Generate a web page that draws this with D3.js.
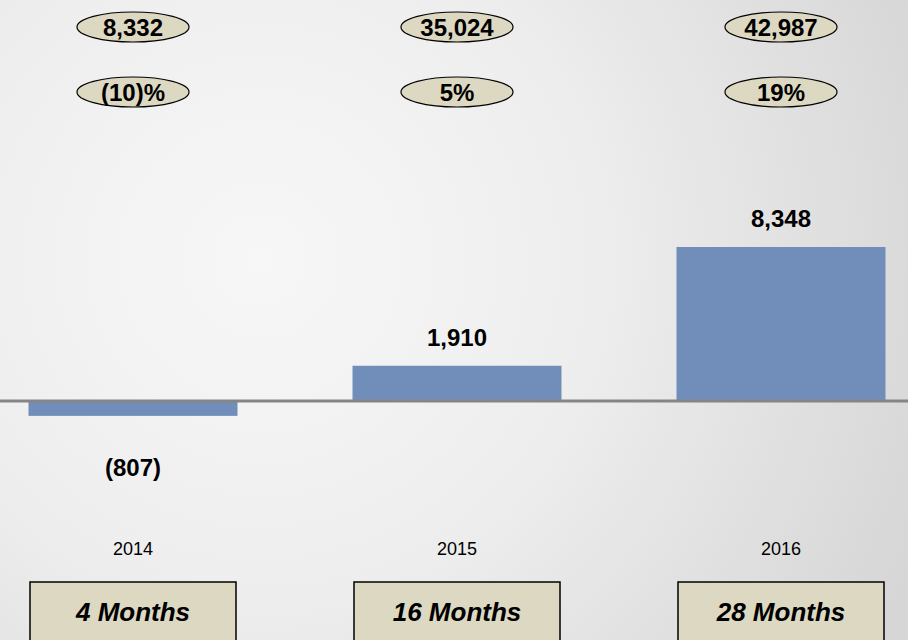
<!DOCTYPE html>
<html>
<head>
<meta charset="utf-8">
<script src="https://cdn.jsdelivr.net/npm/d3@7"></script>
<style>
  html, body { margin: 0; padding: 0; }
  svg { display: block; font-family: "Liberation Sans", Arial, sans-serif; }
</style>
</head>
<body>
<svg id="chart" width="908" height="640"></svg>
<script>
// Chart data
const years = ["2014", "2015", "2016"];
const netValues = [-807, 1910, 8348];
const totals = [8332, 35024, 42987];
const growthLabels = ["(10)%", "5%", "19%"];
const periods = ["4 Months", "16 Months", "28 Months"];

const W = 908, H = 640;
const svg = d3.select("#chart");

// Background shading
const defs = svg.append("defs");
const grad = defs.append("radialGradient")
  .attr("id", "bg").attr("gradientUnits", "userSpaceOnUse")
  .attr("cx", 260).attr("cy", 260).attr("r", 720);
grad.append("stop").attr("offset", "0%").attr("stop-color", "#f7f7f7");
grad.append("stop").attr("offset", "45%").attr("stop-color", "#eeeeee");
grad.append("stop").attr("offset", "100%").attr("stop-color", "#d6d6d6");
svg.append("rect").attr("width", W).attr("height", H).attr("fill", "url(#bg)");

// Scales
const x = d3.scaleBand().domain(years).range([-29, 943]).paddingInner(0.355).paddingOuter(0.1775);
const y = d3.scaleLinear().domain([0, 8348]).range([401, 247]);

const fmt = d3.format(",");
const fmtVal = v => v < 0 ? "(" + fmt(-v) + ")" : fmt(v);

// Bars
svg.append("g").selectAll("rect").data(netValues).join("rect")
  .attr("x", (d, i) => x(years[i]))
  .attr("width", x.bandwidth())
  .attr("y", d => Math.min(y(d), y(0)))
  .attr("height", d => Math.abs(y(d) - y(0)))
  .attr("fill", "#718EBB");

// Zero line
svg.append("line")
  .attr("x1", 0).attr("x2", W).attr("y1", y(0)).attr("y2", y(0))
  .attr("stroke", "#858585").attr("stroke-width", 3);

// Value labels
svg.append("g").selectAll("text").data(netValues).join("text")
  .attr("x", (d, i) => x(years[i]) + x.bandwidth() / 2)
  .attr("y", d => d >= 0 ? y(d) - 28 : y(d) + 52)
  .attr("dy", "0.35em")
  .attr("text-anchor", "middle")
  .attr("font-size", 24).attr("font-weight", "bold")
  .text(fmtVal);

// Year axis
const xAxis = svg.append("g").attr("transform", "translate(0,549)")
  .call(d3.axisBottom(x).tickSize(0).tickPadding(0));
xAxis.select(".domain").remove();
xAxis.selectAll("text")
  .attr("font-size", 18).attr("fill", "#000")
  .attr("font-family", "Liberation Sans, Arial, sans-serif")
  .attr("dy", "0.35em").attr("y", 0);

// Top ellipses: totals and growth
function ovalRow(labels, cy) {
  const g = svg.append("g").selectAll("g").data(labels).join("g")
    .attr("transform", (d, i) => `translate(${x(years[i]) + x.bandwidth() / 2},${cy})`);
  g.append("ellipse").attr("rx", 56).attr("ry", 15)
    .attr("fill", "#DDD8C1").attr("stroke", "#000").attr("stroke-width", 1.2);
  g.append("text").attr("text-anchor", "middle").attr("dy", "0.36em")
    .attr("font-size", 24).attr("font-weight", "bold").text(d => d);
}
ovalRow(totals.map(fmt), 27);
ovalRow(growthLabels, 92);

// Period boxes
const boxes = svg.append("g").selectAll("g").data(periods).join("g")
  .attr("transform", (d, i) => `translate(${x(years[i]) + x.bandwidth() / 2},0)`);
boxes.append("rect").attr("x", -103).attr("y", 582).attr("width", 206).attr("height", 70)
  .attr("fill", "#DDD8C2").attr("stroke", "#000").attr("stroke-width", 1.5);
boxes.append("text").attr("text-anchor", "middle").attr("y", 612).attr("dy", "0.35em")
  .attr("font-size", 26).attr("font-weight", "bold").attr("font-style", "italic")
  .text(d => d);
</script>
</body>
</html>
